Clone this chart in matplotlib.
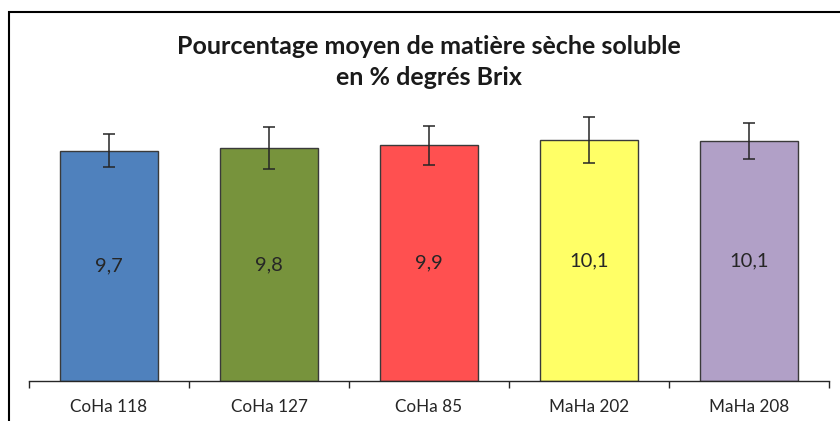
import matplotlib
matplotlib.use("Agg")
import matplotlib.pyplot as plt
from matplotlib.patches import Rectangle

categories = ["CoHa 118", "CoHa 127", "CoHa 85", "MaHa 202", "MaHa 208"]
values = [9.66, 9.76, 9.88, 10.10, 10.06]
errors = [0.68, 0.88, 0.81, 0.95, 0.75]
colors = ["#4F81BD", "#77933C", "#FF5050", "#FFFF66", "#B1A0C7"]
title = "Pourcentage moyen de matière sèche soluble\nen % degrés Brix"

plt.rcParams['font.family'] = ['Lato', 'DejaVu Sans']

fig = plt.figure(figsize=(8.4, 4.21), dpi=100)
ax = fig.add_axes([29/840, 40/421, 800/840, 286.3/421])

x = list(range(len(categories)))
ax.bar(x, values, width=0.61, color=colors, edgecolor="#3a3a3a", linewidth=1.0, zorder=2)
ax.errorbar(x, values, yerr=errors, fmt="none", ecolor="#262626", elinewidth=1.1,
            capsize=4, capthick=1.1, zorder=3)
for xi, v in zip(x, values):
    ax.text(xi, v / 2, f"{v:.1f}".replace(".", ","), ha="center", va="center",
            fontsize=14.5, color="#262626", zorder=4)

ax.set_xlim(-0.5, len(categories) - 0.5)
ax.set_ylim(0, 12)
for s in ["top", "right", "left"]:
    ax.spines[s].set_visible(False)
ax.spines["bottom"].set_color("#262626")
ax.spines["bottom"].set_linewidth(1.0)
ax.set_yticks([])
ax.set_xticks(x)
ax.set_xticklabels(categories, fontsize=12.3, color="#262626")
ax.tick_params(axis="x", which="major", length=0, pad=13)
ax.set_xticks([i - 0.5 for i in range(len(categories) + 1)], minor=True)
ax.tick_params(axis="x", which="minor", length=5, width=1.0, color="#262626")

fig.text(429/840, 1 - 62/421, title, ha="center", va="center", fontsize=18,
         fontweight="bold", color="#1a1a1a", linespacing=1.46)

fig.patches.append(Rectangle((9/840, -0.2), 1.2, 1 - 12/421 + 0.2, transform=fig.transFigure,
                             fill=False, edgecolor="#000000", linewidth=1.5))

fig.savefig("out.png", dpi=100)
